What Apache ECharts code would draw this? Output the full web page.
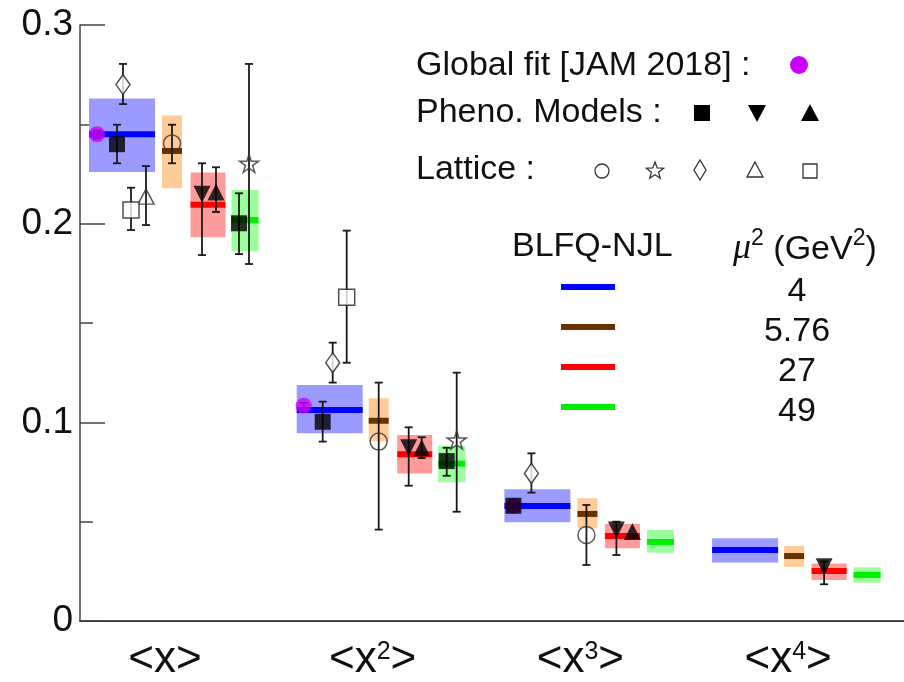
<!DOCTYPE html>
<html><head><meta charset="utf-8">
<script src="https://cdn.jsdelivr.net/npm/echarts@6/dist/echarts.min.js"></script>
<style>html,body{margin:0;padding:0;background:#fff}#c{width:904px;height:682px}</style>
</head><body><div id="c"></div>
<script>
// ---- categories: moments <x^n>
const moments = [1, 2, 3, 4];
const yTickValues = [0, 0.1, 0.2, 0.3];

// ---- BLFQ-NJL bands (central value, lower, upper) for each scale mu^2
const muLabels = ['4', '5.76', '27', '49'];
const blfq4     = [0.245, 0.1062, 0.0579, 0.0357];
const blfq4Lo   = [0.226, 0.0945, 0.0497, 0.0294];
const blfq4Hi   = [0.263, 0.1188, 0.0663, 0.0416];
const blfq576   = [0.2366, 0.1008, 0.0539, 0.0327];
const blfq576Lo = [0.2178, 0.0905, 0.0467, 0.0273];
const blfq576Hi = [0.2545, 0.1121, 0.0618, 0.0378];
const blfq27    = [0.2095, 0.0839, 0.0428, 0.0252];
const blfq27Lo  = [0.1931, 0.0743, 0.0366, 0.0206];
const blfq27Hi  = [0.2257, 0.0936, 0.0488, 0.0290];
const blfq49    = [0.2018, 0.0792, 0.0398, 0.0232];
const blfq49Lo  = [0.1862, 0.0698, 0.0344, 0.0193];
const blfq49Hi  = [0.2169, 0.0882, 0.0458, 0.0270];

// ---- Global fit JAM 2018
const jam   = [0.245, 0.1084, 0.058, null];
const jamLo = [0.243, 0.1070, null, null];
const jamHi = [0.247, 0.1098, null, null];

// ---- Pheno models
const sqA   = [0.240, 0.1003, 0.058, null];
const sqALo = [0.2304, 0.0903, null, null];
const sqAHi = [0.2498, 0.1104, null, null];
const sqB   = [0.2002, 0.0805, null, null];
const sqBLo = [0.1847, 0.0731, null, null];
const sqBHi = [0.2153, 0.0872, null, null];
const dTri   = [0.2148, 0.0872, 0.0458, 0.0273];
const dTriLo = [0.1842, 0.0681, 0.0332, 0.0185];
const dTriHi = [0.2304, 0.0975, 0.0500, 0.0300];
const uTri   = [0.216, 0.0872, 0.045, null];
const uTriLo = [0.2059, 0.0820, null, null];
const uTriHi = [0.2284, 0.0925, null, null];

// ---- Lattice
const latCirc   = [0.2404, 0.0903, 0.0433, null];
const latCircLo = [0.2304, 0.046, 0.0282, null];
const latCircHi = [0.2498, 0.120, 0.0584, null];
const latStar   = [0.2304, 0.0911, null, null];
const latStarLo = [0.1797, 0.055, null, null];
const latStarHi = [0.2804, 0.125, null, null];
const latDiam   = [0.270, 0.130, 0.0743, null];
const latDiamLo = [0.2602, 0.120, 0.0646, null];
const latDiamHi = [0.2804, 0.1401, 0.0844, null];
const latTri    = [0.2136, null, null, null];
const latTriLo  = [0.1993, null, null, null];
const latTriHi  = [0.2290, null, null, null];
const latSq     = [0.2069, 0.1629, null, null];
const latSqLo   = [0.1968, 0.130, null, null];
const latSqHi   = [0.2181, 0.1965, null, null];

// ---- layout (pixel offsets of each set inside a group)
const PX = 207.7;
const OFF = {
  blue: [0,0,0,0], orange: [50,49,50,49], red: [86,85,85,84], green: [123,122,123,122],
  jam: [-25,-26,-24,0], sqA: [-5,-7,-24,0], sqB: [117,117,0,0],
  dTri: [80,79,79,79], uTri: [94,92,95,0],
  circ: [50,49,49,0], star: [127,127,0,0], diam: [1,3,-6,0], tri: [24,0,0,0], sq: [9,17,0,0]
};
const xMin = 1 - 42 / PX, xMax = xMin + 824 / PX;
const xOf = (i, key) => moments[i] + OFF[key][i] / PX;

function pts(vals, key) {
  const out = [];
  vals.forEach((v, i) => { if (v != null) out.push([xOf(i, key), v]); });
  return out;
}
function errs(lo, hi, key) {
  const out = [];
  lo.forEach((l, i) => { if (l != null && hi[i] != null) out.push([xOf(i, key), l, hi[i]]); });
  return out;
}
function bands(c, lo, hi, key) {
  return c.map((v, i) => [xOf(i, key), lo[i], hi[i], v]);
}

function bandSeries(data, w, fill, line) {
  return {
    type: 'custom', xAxisIndex: 0, yAxisIndex: 0, z: 1, silent: true,
    encode: { x: 0, y: [1, 2, 3] },
    data,
    renderItem(params, api) {
      const x = api.value(0);
      const pHi = api.coord([x, api.value(2)]);
      const pLo = api.coord([x, api.value(1)]);
      const pC = api.coord([x, api.value(3)]);
      return { type: 'group', children: [
        { type: 'rect', shape: { x: pHi[0] - w / 2, y: pHi[1], width: w, height: pLo[1] - pHi[1] }, style: { fill } },
        { type: 'rect', shape: { x: pHi[0] - w / 2, y: pC[1] - 3, width: w, height: 6 }, style: { fill: line } }
      ]};
    }
  };
}
function errSeries(data) {
  return {
    type: 'custom', xAxisIndex: 0, yAxisIndex: 0, z: 3, silent: true,
    encode: { x: 0, y: [1, 2] },
    data,
    renderItem(params, api) {
      const x = api.value(0);
      const a = api.coord([x, api.value(1)]);
      const b = api.coord([x, api.value(2)]);
      const st = { stroke: '#1a1a1a', lineWidth: 1.8 };
      return { type: 'group', children: [
        { type: 'line', shape: { x1: a[0], y1: a[1], x2: b[0], y2: b[1] }, style: st },
        { type: 'line', shape: { x1: a[0] - 4, y1: a[1], x2: a[0] + 4, y2: a[1] }, style: st },
        { type: 'line', shape: { x1: b[0] - 4, y1: b[1], x2: b[0] + 4, y2: b[1] }, style: st }
      ]};
    }
  };
}
const STAR = 'path://M50,0 L61,35 L98,35 L68,57 L79,91 L50,70 L21,91 L32,57 L2,35 L39,35 Z';
function scat(data, symbol, size, style, extra) {
  return Object.assign({
    type: 'scatter', xAxisIndex: 0, yAxisIndex: 0, z: 4, silent: true,
    symbol, symbolSize: size, symbolKeepAspect: true, data, itemStyle: style
  }, extra || {});
}
const FILL = { color: '#000' };
const OPEN = { color: 'rgba(0,0,0,0)', borderColor: '#333', borderWidth: 1.5 };
const OPENW = { color: '#fff', borderColor: '#222', borderWidth: 1.5 };

const series = [
  bandSeries(bands(blfq4, blfq4Lo, blfq4Hi, 'blue'), 66, '#9b9bff', '#0000ff'),
  bandSeries(bands(blfq576, blfq576Lo, blfq576Hi, 'orange'), 20, '#ffcc99', '#663300'),
  bandSeries(bands(blfq27, blfq27Lo, blfq27Hi, 'red'), 35, '#ff9b9b', '#ff0000'),
  bandSeries(bands(blfq49, blfq49Lo, blfq49Hi, 'green'), 27, '#9bff9b', '#00ee00'),
  errSeries(errs(jamLo, jamHi, 'jam')),
  errSeries(errs(sqALo, sqAHi, 'sqA')),
  errSeries(errs(sqBLo, sqBHi, 'sqB')),
  errSeries(errs(dTriLo, dTriHi, 'dTri')),
  errSeries(errs(uTriLo, uTriHi, 'uTri')),
  errSeries(errs(latCircLo, latCircHi, 'circ')),
  errSeries(errs(latStarLo, latStarHi, 'star')),
  errSeries(errs(latDiamLo, latDiamHi, 'diam')),
  errSeries(errs(latTriLo, latTriHi, 'tri')),
  errSeries(errs(latSqLo, latSqHi, 'sq')),
  scat(pts(jam, 'jam'), 'circle', 16, { color: '#cc00ff' }),
  scat(pts(sqA, 'sqA'), 'rect', 16, FILL, { z: 5 }),
  scat(pts(sqB, 'sqB'), 'rect', 16, FILL),
  scat(pts(dTri, 'dTri'), 'triangle', [17, 17], FILL, { symbolRotate: 180 }),
  scat(pts(uTri, 'uTri'), 'triangle', [17, 17], FILL),
  scat(pts(latCirc, 'circ'), 'circle', 17, OPEN),
  scat(pts(latStar, 'star'), STAR, 19, OPEN),
  scat(pts(latDiam, 'diam'), 'diamond', [14, 20], OPENW),
  scat(pts(latTri, 'tri'), 'triangle', [16, 15], OPEN),
  scat(pts(latSq, 'sq'), 'rect', 16, OPENW)
];

// ---- legend graphics
const FONT = '34px "Liberation Sans", Arial, sans-serif';
function txt(text, x, y, align, extra) {
  return { type: 'text', x, y, z: 10, style: Object.assign({ text, font: FONT, fill: '#111', align: align || 'left', verticalAlign: 'middle', textAlign: align || 'left', textVerticalAlign: 'middle' }, extra || {}) };
}
function poly(points, style) { return { type: 'polygon', z: 10, shape: { points }, style }; }
const oSt = { fill: 'none', stroke: '#333', lineWidth: 1.3 };
const fSt = { fill: '#000' };
const starPts = (cx, cy, r) => {
  const p = [];
  for (let k = 0; k < 10; k++) {
    const a = -Math.PI / 2 + k * Math.PI / 5, rr = k % 2 ? r * 0.42 : r;
    p.push([cx + rr * Math.cos(a), cy + rr * Math.sin(a)]);
  }
  return p;
};
const legendColors = ['#0000ff', '#663300', '#ff0000', '#00ee00'];
const graphics = [
  txt('Global fit [JAM 2018] :', 416, 66),
  txt('Pheno. Models :', 416, 113),
  txt('Lattice :', 416, 170),
  txt('BLFQ-NJL', 512, 247),
  { type: 'text', x: 733, y: 247, z: 10, style: {
      text: '{m|μ}{s|2}{t| (GeV}{s|2}{t|)}', align: 'left', verticalAlign: 'middle', textAlign: 'left', textVerticalAlign: 'middle',
      rich: {
        m: { font: 'italic 36px "Liberation Serif", serif', fill: '#111', lineHeight: 40, verticalAlign: 'bottom' },
        t: { font: FONT, fill: '#111', lineHeight: 40, verticalAlign: 'bottom' },
        s: { font: '23px "Liberation Sans", Arial, sans-serif', fill: '#111', lineHeight: 40, verticalAlign: 'top' }
      } } },
  { type: 'circle', z: 10, shape: { cx: 799, cy: 65, r: 9 }, style: { fill: '#cc00ff' } },
  { type: 'rect', z: 10, shape: { x: 694, y: 105, width: 16, height: 16 }, style: fSt },
  poly([[748, 105], [766, 105], [757, 122]], fSt),
  poly([[810, 104], [819, 121], [801, 121]], fSt),
  { type: 'circle', z: 10, shape: { cx: 602, cy: 171, r: 7 }, style: oSt },
  poly(starPts(655, 171, 9), oSt),
  poly([[700, 160], [706, 170], [700, 180], [694, 170]], oSt),
  poly([[755, 162], [763, 177], [747, 177]], oSt),
  { type: 'rect', z: 10, shape: { x: 803, y: 164, width: 14, height: 14 }, style: oSt }
];
muLabels.forEach((m, k) => {
  graphics.push({ type: 'rect', z: 10, shape: { x: 561, y: 284 + 40 * k, width: 54, height: 6 }, style: { fill: legendColors[k] } });
  graphics.push(txt(m, 797, 292 + 40 * k, 'center'));
});

const LAB = '"Liberation Sans", Arial, sans-serif';
const chart = echarts.init(document.getElementById('c'), null, { renderer: 'canvas' });
chart.setOption({
  animation: false,
  backgroundColor: '#fff',
  grid: [
    { left: 80, right: 0, top: 25, bottom: 61 },
    { left: 61, right: 12, top: 25, bottom: 61 }
  ],
  xAxis: [
    { type: 'value', gridIndex: 0, min: xMin, max: xMax, axisLine: { onZero: false, lineStyle: { color: '#555', width: 2 } },
      axisTick: { show: false }, axisLabel: { show: false }, splitLine: { show: false } },
    { type: 'value', gridIndex: 0, position: 'top', min: xMin, max: xMax, axisLine: { lineStyle: { color: '#333', width: 1.2 } },
      axisTick: { show: false }, axisLabel: { show: false }, splitLine: { show: false } },
    { type: 'category', gridIndex: 1, data: moments, axisLine: { show: false }, axisTick: { show: false }, splitLine: { show: false },
      axisLabel: {
        margin: 24,
        formatter: (v) => v === '1' ? '{t|<x>}' : '{t|<x}{s|' + v + '}{t|>}',
        rich: {
          t: { fontSize: 44, fontFamily: LAB, color: '#111', lineHeight: 42, verticalAlign: 'bottom' },
          s: { fontSize: 25, fontFamily: LAB, color: '#111', lineHeight: 42, verticalAlign: 'top' }
        }
      } }
  ],
  yAxis: [
    { type: 'value', gridIndex: 0, min: 0, max: 0.3, interval: 0.1,
      axisLine: { show: true, onZero: false, lineStyle: { color: '#444', width: 1.5 } },
      axisTick: { show: true, inside: true, length: 25, lineStyle: { color: '#444', width: 1.5 } },
      minorTick: { show: true, splitNumber: 2, length: 13, lineStyle: { color: '#444', width: 1.5 } },
      axisLabel: { margin: 7, fontSize: 37, fontFamily: LAB, color: '#111',
        formatter: (v) => { const t = yTickValues.find(q => Math.abs(q - v) < 1e-9); return t === 0 ? '0' : (t != null ? t.toFixed(1) : ''); } },
      splitLine: { show: false } },
    { type: 'value', gridIndex: 1, show: false, min: 0, max: 1 }
  ],
  series,
  graphic: graphics
});
</script>
</body></html>
